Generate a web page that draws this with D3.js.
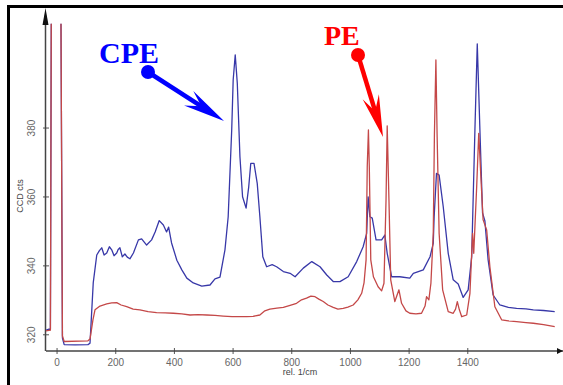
<!DOCTYPE html>
<html lang="en">
<head>
<meta charset="utf-8">
<style>
    body { margin: 0; background: #fff; }
    svg { display: block; }
</style>
</head>
<body>
<svg id="chart" width="563" height="385"></svg>
<script src="https://d3js.org/d3.v7.min.js"></script>
<script>

    // raman shift (rel. 1/cm) and counts
    var cpeShift = [-36, -26, -21, -18, -2, 15, 20, 26, 63, 107, 114, 125, 137, 146, 154, 162, 171, 180, 188, 196, 205, 210, 216, 224, 233, 241, 250,
        262, 279, 290, 307, 324, 336, 350, 364, 375, 382, 392, 410, 427, 444, 466, 495, 523, 540, 557, 574,
        585, 597, 602, 609, 616, 625, 634, 646, 655, 662, 673, 684, 693, 703, 716, 735, 750, 773, 796, 813, 841,
        870, 898, 921, 943, 966, 994, 1023, 1045, 1057, 1062, 1068, 1076, 1089, 1108, 1119, 1127, 1142, 1170, 1204, 1216,
        1250, 1273, 1284, 1287, 1295, 1304, 1318, 1335, 1352, 1369, 1386, 1403, 1415, 1426, 1434, 1443, 1452, 1460, 1471, 1488,
        1511, 1540, 1568, 1600, 1625, 1660, 1698];
    var cpeCounts = [321.2, 321.5, 321.4, 412, 520, 412, 318.9, 317.0, 316.9, 317.0, 317.4, 334.9, 343.0, 344.3, 345.1, 343.0, 343.6, 345.4, 344.5, 342.8, 343.6, 344.6, 345.1, 342.5, 343.3, 342.4, 341.9,
        343.6, 347.4, 347.7, 345.9, 347.4, 349.7, 353.0, 351.7, 349.7, 351.1, 346.5, 341.5, 338.7, 336.3, 334.9, 334.0, 334.3, 336.1, 336.6, 344.5,
        354.1, 379.3, 393.8, 401.1, 392.9, 371.6, 359.9, 356.6, 362.8, 369.6, 369.6, 363.8, 354.1, 342.5, 339.6, 340.2, 339.6, 338.2, 337.7, 336.7, 339.2,
        341.1, 339.6, 337.2, 335.3, 335.3, 336.7, 341.1, 345.4, 349.3, 359.9, 354.1, 353.7, 347.4, 347.4, 348.8, 343.5, 336.7, 336.7, 336.3, 337.7,
        338.7, 342.5, 346.4, 354.1, 366.7, 366.2, 357.0, 343.5, 335.8, 334.6, 330.7, 332.9, 342.5, 379.3, 404.3, 379.3, 355.2, 352.9, 341.6, 331.4,
        328.5, 327.8, 327.5, 327.4, 327.1, 326.9, 326.6];

    var peShift = [-36, -21, -18, -2, 15, 20, 26, 107, 114, 124, 131, 148, 171, 188, 205, 220, 239, 261, 284, 312,
        341, 370, 398, 427, 455, 482, 512, 540, 568, 598, 625, 648, 670, 693, 710, 727, 751, 773, 796, 818,
        835, 852, 867, 881, 894, 909, 925, 943, 959, 977, 993, 1011, 1027, 1040, 1048, 1055, 1059, 1063, 1066, 1071,
        1080, 1096, 1108, 1116, 1123, 1127, 1133, 1139, 1153, 1167, 1176, 1191, 1204, 1225, 1244, 1256, 1261, 1269, 1276, 1284,
        1288, 1293, 1297, 1304, 1316, 1335, 1352, 1360, 1366, 1373, 1381, 1398, 1409, 1418, 1422, 1432, 1439, 1448, 1454, 1466,
        1477, 1494, 1517, 1540, 1568, 1600, 1625, 1660, 1698];
    var peCounts = [321.0, 321.2, 412, 520, 412, 319.5, 317.9, 318.1, 318.6, 324.2, 327.1, 328.2, 328.8, 329.1, 329.2, 328.5, 328.0, 327.3, 327.1, 326.6,
        326.3, 326.2, 326.1, 325.9, 325.6, 325.7, 325.6, 325.5, 325.3, 325.1, 325.1, 325.1, 325.2, 325.6, 326.8, 327.3, 327.6, 327.8, 328.4, 329.0,
        330.0, 330.5, 331.1, 330.9, 330.2, 329.5, 328.5, 327.8, 327.3, 327.5, 327.9, 328.5, 330.0, 331.9, 334.9, 341.6, 368.7, 379.3, 368.7, 341.6,
        336.7, 333.8, 332.6, 334.8, 359.0, 380.5, 359.0, 335.8, 329.5, 332.9, 329.0, 326.8, 326.1, 325.9, 326.1, 328.2, 330.9, 330.0, 334.8, 349.3,
        378.3, 399.6, 378.3, 349.3, 332.9, 326.6, 326.1, 327.3, 329.5, 327.1, 325.1, 325.6, 331.9, 349.3, 343.5, 362.8, 378.3, 362.8, 353.2, 350.3,
        339.6, 328.0, 324.2, 323.9, 323.7, 323.4, 323.2, 322.8, 322.2];

    var xTicks = [0, 200, 400, 600, 800, 1000, 1200, 1400];
    var yTicks = [320, 340, 360, 380];

    var svg = d3.select("#chart");

    // outer frame (only the top and left edges are in the picture)
    svg.append("path")
        .attr("d", "M8.5,385 L8.5,6.5 L563,6.5")
        .attr("fill", "none")
        .attr("stroke", "#000")
        .attr("stroke-width", 3);

    var x = d3.scaleLinear().domain([-36, 1716]).range([46, 560]);
    var y = d3.scaleLinear().domain([315.15, 414.4]).range([351, 9]);

    var defs = svg.append("defs");
    defs.append("clipPath").attr("id", "plotclip")
        .append("rect")
        .attr("x", 46).attr("y", y(410.1))
        .attr("width", 515).attr("height", 351 - y(410.1));
    defs.append("marker").attr("id", "xarrow")
        .attr("viewBox", "0 0 10 10").attr("refX", 10).attr("refY", 5)
        .attr("markerWidth", 6).attr("markerHeight", 6)
        .attr("markerUnits", "userSpaceOnUse")
        .attr("orient", "auto")
        .append("path").attr("d", "M0,0 L10,5 L0,10 z").attr("fill", "#111");

    // axes
    var xAxis = svg.append("g")
        .attr("transform", "translate(0,351)")
        .call(d3.axisBottom(x).tickValues(xTicks).tickFormat(d3.format("d")).tickSize(3).tickPadding(5));
    var yAxis = svg.append("g")
        .attr("transform", "translate(46,0)")
        .call(d3.axisLeft(y).tickValues(yTicks).tickFormat(d3.format("d")).tickSize(3).tickPadding(6));

    xAxis.select(".domain").remove();
    yAxis.select(".domain").remove();
    xAxis.selectAll(".tick line").attr("y1", -3).attr("y2", 3).attr("stroke", "#555");
    yAxis.selectAll(".tick line").attr("x1", -3).attr("x2", 3).attr("stroke", "#555");
    xAxis.selectAll(".tick text")
        .attr("font-family", "Liberation Sans, Arial, sans-serif")
        .attr("font-size", 10).attr("fill", "#666");
    yAxis.selectAll(".tick text")
        .attr("font-family", "Liberation Sans, Arial, sans-serif")
        .attr("font-size", 10).attr("fill", "#666")
        .attr("text-anchor", "middle")
        .attr("transform", "translate(-14,0) rotate(-90)")
        .attr("x", 0).attr("dy", "0.32em");

    svg.append("line")
        .attr("x1", 46).attr("y1", 351).attr("x2", 563).attr("y2", 351)
        .attr("stroke", "#444").attr("stroke-width", 1.5)
        .attr("marker-end", "url(#xarrow)");
    svg.append("line")
        .attr("x1", 45.5).attr("y1", 351).attr("x2", 45.5).attr("y2", 25)
        .attr("stroke", "#444").attr("stroke-width", 1.5);
    svg.append("path")
        .attr("d", "M45.5,8 L42.5,25 L48.5,25 z")
        .attr("fill", "#111");

    svg.append("text")
        .attr("transform", "translate(23,196) rotate(-90)")
        .attr("text-anchor", "middle")
        .attr("font-family", "Liberation Sans, Arial, sans-serif")
        .attr("font-size", 9).attr("fill", "#444")
        .text("CCD cts");
    svg.append("text")
        .attr("x", 300).attr("y", 375)
        .attr("text-anchor", "middle")
        .attr("font-family", "Liberation Sans, Arial, sans-serif")
        .attr("font-size", 9).attr("fill", "#444")
        .text("rel. 1/cm");

    // spectra
    var line = d3.line()
        .x(function (d) { return x(d[0]); })
        .y(function (d) { return y(d[1]); });

    var plot = svg.append("g").attr("clip-path", "url(#plotclip)");
    plot.append("path")
        .attr("d", line(d3.zip(cpeShift, cpeCounts)))
        .attr("fill", "none")
        .attr("stroke", "#3838a8")
        .attr("stroke-width", 1.3)
        .attr("stroke-linejoin", "round");
    plot.append("path")
        .attr("d", line(d3.zip(peShift, peCounts)))
        .attr("fill", "none")
        .attr("stroke", "#c44848")
        .attr("stroke-width", 1.3)
        .attr("stroke-linejoin", "round");

    // callouts: label, dot, and barbed arrow
    var drawCallout = function (label, color, lx, ly, size, from, to) {
        svg.append("text")
            .attr("x", lx).attr("y", ly)
            .attr("font-family", "Liberation Serif, Times New Roman, serif")
            .attr("font-weight", "bold")
            .attr("font-size", size)
            .attr("fill", color)
            .text(label);
        var dx = to[0] - from[0], dy = to[1] - from[1];
        var len = Math.sqrt(dx * dx + dy * dy);
        var ux = dx / len, uy = dy / len;
        var px = -uy, py = ux;
        var headLen = 42, notch = 27, half = 8.5;
        var bx = to[0] - ux * headLen, by = to[1] - uy * headLen;
        var nx = to[0] - ux * notch, ny = to[1] - uy * notch;
        svg.append("line")
            .attr("x1", from[0]).attr("y1", from[1])
            .attr("x2", nx + ux * 2).attr("y2", ny + uy * 2)
            .attr("stroke", color).attr("stroke-width", 4.5);
        svg.append("path")
            .attr("d", "M" + to[0] + "," + to[1] +
                " L" + (bx + px * half) + "," + (by + py * half) +
                " L" + nx + "," + ny +
                " L" + (bx - px * half) + "," + (by - py * half) + " z")
            .attr("fill", color);
        svg.append("circle")
            .attr("cx", from[0]).attr("cy", from[1]).attr("r", 7)
            .attr("fill", color);
    };

    drawCallout("CPE", "#0000ff", 99, 63, 30, [148, 72], [224, 121]);
    drawCallout("PE", "#ff0000", 324, 45, 28, [358, 55], [383, 137]);

</script>
</body>
</html>
